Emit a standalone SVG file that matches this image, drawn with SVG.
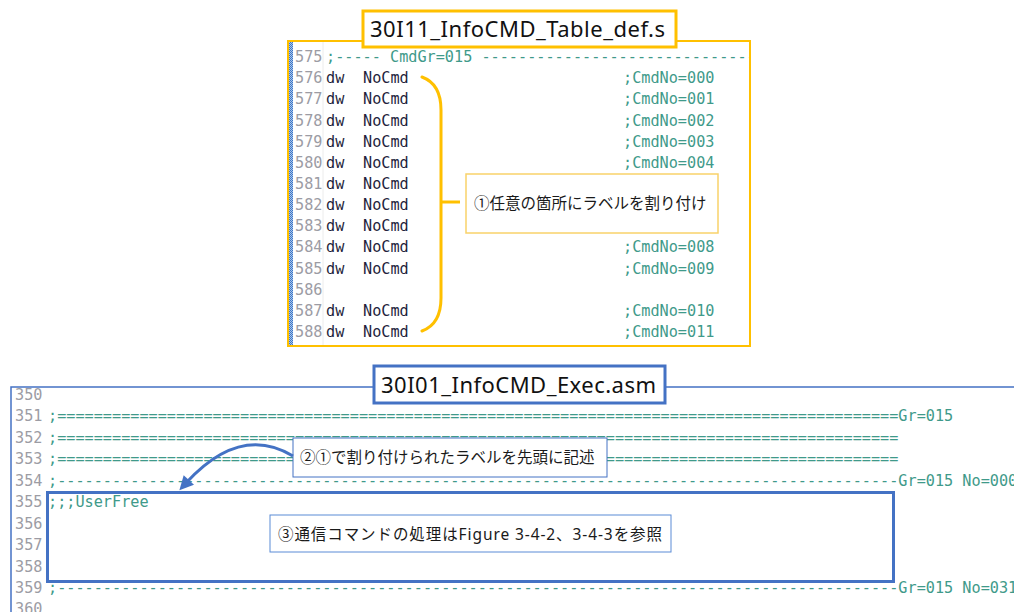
<svg xmlns="http://www.w3.org/2000/svg" width="1014" height="612" viewBox="0 0 1014 612">
<style>
.mono{font-family:"DejaVu Sans Mono","Liberation Mono",monospace;font-size:15.2px}
.ln{fill:#9c9ca4}
.code{fill:#1f1f3d}
.cm{fill:#3f9a8a}
.jp{font-family:"Noto Sans","Noto Sans CJK JP",sans-serif;fill:#1a1a1a}
.title{font-family:"Noto Sans","Noto Sans CJK JP",sans-serif;font-size:22px;fill:#111}
</style>
<defs>
<pattern id="dots" width="2" height="2" patternUnits="userSpaceOnUse">
<rect width="2" height="2" fill="#a9c6ea"/>
<rect width="1" height="1" fill="#3f77c8"/>
<rect x="1" y="1" width="1" height="1" fill="#3f77c8"/>
</pattern>
<clipPath id="topclip"><rect x="288" y="41" width="461" height="305"/></clipPath>
<clipPath id="botclip"><rect x="11" y="387" width="1003" height="225"/></clipPath>
<marker id="ah" viewBox="0 0 10 10" refX="3" refY="5" markerWidth="16" markerHeight="14" markerUnits="userSpaceOnUse" orient="auto">
<path d="M0,0 L10,5 L0,10 z" fill="#4472c4"/>
</marker>
</defs>
<rect width="1014" height="612" fill="#fff"/>

<g id="top-panel">
<rect x="288" y="41" width="462" height="305" fill="#fff" stroke="#ffc000" stroke-width="2"/>
<rect x="289" y="42" width="4" height="303" fill="url(#dots)"/>
<line x1="323" y1="42" x2="323" y2="345" stroke="#ececec" stroke-width="1"/>
<g class="mono" clip-path="url(#topclip)">
<text class="ln" x="295" y="62">575</text>
<text class="cm" x="326" y="62">;----- CmdGr=015 ------------------------------</text>
<text class="ln" x="295" y="83.2">576</text><text class="code" x="326" y="83.2">dw</text><text class="code" x="363" y="83.2">NoCmd</text><text class="cm" x="623" y="83.2">;CmdNo=000</text>
<text class="ln" x="295" y="104.3">577</text><text class="code" x="326" y="104.3">dw</text><text class="code" x="363" y="104.3">NoCmd</text><text class="cm" x="623" y="104.3">;CmdNo=001</text>
<text class="ln" x="295" y="125.5">578</text><text class="code" x="326" y="125.5">dw</text><text class="code" x="363" y="125.5">NoCmd</text><text class="cm" x="623" y="125.5">;CmdNo=002</text>
<text class="ln" x="295" y="146.6">579</text><text class="code" x="326" y="146.6">dw</text><text class="code" x="363" y="146.6">NoCmd</text><text class="cm" x="623" y="146.6">;CmdNo=003</text>
<text class="ln" x="295" y="167.8">580</text><text class="code" x="326" y="167.8">dw</text><text class="code" x="363" y="167.8">NoCmd</text><text class="cm" x="623" y="167.8">;CmdNo=004</text>
<text class="ln" x="295" y="188.9">581</text><text class="code" x="326" y="188.9">dw</text><text class="code" x="363" y="188.9">NoCmd</text>
<text class="ln" x="295" y="210.1">582</text><text class="code" x="326" y="210.1">dw</text><text class="code" x="363" y="210.1">NoCmd</text>
<text class="ln" x="295" y="231.2">583</text><text class="code" x="326" y="231.2">dw</text><text class="code" x="363" y="231.2">NoCmd</text>
<text class="ln" x="295" y="252.4">584</text><text class="code" x="326" y="252.4">dw</text><text class="code" x="363" y="252.4">NoCmd</text><text class="cm" x="623" y="252.4">;CmdNo=008</text>
<text class="ln" x="295" y="273.5">585</text><text class="code" x="326" y="273.5">dw</text><text class="code" x="363" y="273.5">NoCmd</text><text class="cm" x="623" y="273.5">;CmdNo=009</text>
<text class="ln" x="295" y="294.7">586</text>
<text class="ln" x="295" y="315.8">587</text><text class="code" x="326" y="315.8">dw</text><text class="code" x="363" y="315.8">NoCmd</text><text class="cm" x="623" y="315.8">;CmdNo=010</text>
<text class="ln" x="295" y="337">588</text><text class="code" x="326" y="337">dw</text><text class="code" x="363" y="337">NoCmd</text><text class="cm" x="623" y="337">;CmdNo=011</text>
</g>
</g>

<g id="title-top">
<rect x="363" y="11" width="313" height="36" fill="#fff" stroke="#ffc000" stroke-width="3"/>
<text class="title" x="370" y="37" textLength="295">30I11_InfoCMD_Table_def.s</text>
</g>

<g id="callout-1">
<rect x="466" y="174" width="252" height="59" fill="#fff" stroke="#f9d26a" stroke-width="1.5"/>
<text class="jp" x="474" y="209" font-size="15.5">①任意の箇所にラベルを割り付け</text>
</g>

<g id="bottom-panel">
<path d="M1014,387 L11,387 L11,612" fill="none" stroke="#4472c4" stroke-width="1.5"/>
<g class="mono" clip-path="url(#botclip)">
<text class="ln" x="15" y="400">350</text>
<text class="ln" x="15" y="421.4">351</text><text class="cm" x="48" y="421.4">;============================================================================================Gr=015</text>
<text class="ln" x="15" y="442.9">352</text><text class="cm" x="48" y="442.9">;============================================================================================</text>
<text class="ln" x="15" y="464.3">353</text><text class="cm" x="48" y="464.3">;============================================================================================</text>
<text class="ln" x="15" y="485.8">354</text><text class="cm" x="48" y="485.8">;--------------------------------------------------------------------------------------------Gr=015 No=000</text>
<text class="ln" x="15" y="507.2">355</text><text class="cm" x="48" y="507.2">;;;UserFree</text>
<text class="ln" x="15" y="528.6">356</text>
<text class="ln" x="15" y="550.1">357</text>
<text class="ln" x="15" y="571.5">358</text>
<text class="ln" x="15" y="593">359</text><text class="cm" x="48" y="593">;--------------------------------------------------------------------------------------------Gr=015 No=031</text>
<text class="ln" x="15" y="614.4">360</text>
</g>
</g>

<g id="title-bottom">
<rect x="374" y="366" width="291" height="37" fill="#fff" stroke="#4472c4" stroke-width="3"/>
<text class="title" x="381" y="393" textLength="275">30I01_InfoCMD_Exec.asm</text>
</g>

<g id="userfree-box">
<rect x="47.5" y="492.5" width="846" height="89" fill="none" stroke="#4472c4" stroke-width="3"/>
</g>

<g id="callout-2">
<rect x="293" y="438" width="314" height="39" fill="#fff" stroke="#4472c4" stroke-width="1"/>
<text class="jp" x="300" y="463" font-size="15.5">②①で割り付けられたラベルを先頭に記述</text>
</g>

<g id="callout-3">
<rect x="270" y="515" width="401" height="37" fill="#fff" stroke="#5b8bd6" stroke-width="1"/>
<text class="jp" x="278" y="540" font-size="15.5" textLength="384">③通信コマンドの処理はFigure 3-4-2、3-4-3を参照</text>
</g>

<g id="connectors">
<path d="M422,77 Q441,84 441,110 L441,298 Q441,324 422,331" fill="none" stroke="#ffc000" stroke-width="3" stroke-linecap="round"/>
<line x1="441" y1="202" x2="460" y2="202" stroke="#ffc000" stroke-width="3"/>
<path d="M293,456 Q240,424 186,483" fill="none" stroke="#4472c4" stroke-width="3" marker-end="url(#ah)"/>
</g>
</svg>
